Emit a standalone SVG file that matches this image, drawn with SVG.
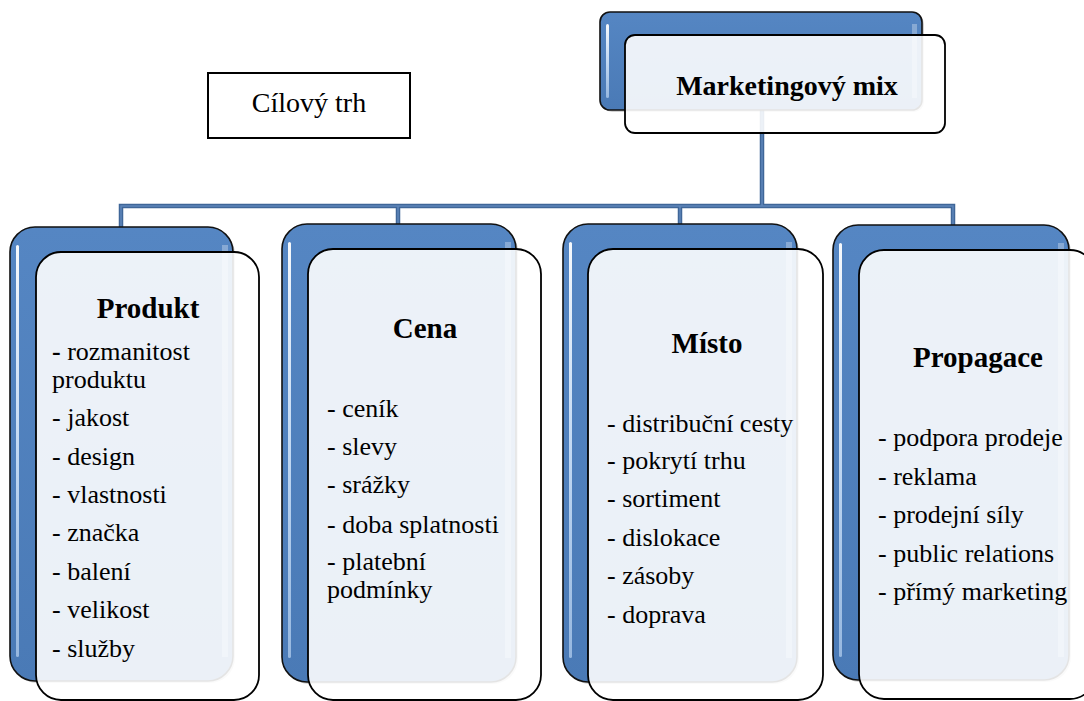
<svg xmlns="http://www.w3.org/2000/svg" width="1084" height="701" viewBox="0 0 1084 701">
<defs>
<linearGradient id="blueG" x1="0" y1="0" x2="0" y2="1">
<stop offset="0" stop-color="#5586C3"/>
<stop offset="1" stop-color="#4A7AB6"/>
</linearGradient>
<linearGradient id="hlG" x1="0" y1="0" x2="0" y2="1">
<stop offset="0" stop-color="#FFFFFF" stop-opacity="0.95"/>
<stop offset="0.5" stop-color="#D6E8FC" stop-opacity="0.85"/>
<stop offset="1" stop-color="#C9E0FA" stop-opacity="0.6"/>
</linearGradient>
</defs>
<style>
.back{fill:url(#blueG);stroke:#111;stroke-width:1.6}
.shadow{fill:#000;fill-opacity:0.18}
.front{fill:#FFFFFF;fill-opacity:0.89;stroke:#000;stroke-width:1.8}
.hl{fill:url(#hlG)}
.hlr{fill:#FFFFFF;fill-opacity:0.3}
.conn{fill:none;stroke:#3F6698;stroke-width:4.5}
.conni{fill:none;stroke:#5F86BA;stroke-width:1.5}
.title{font-family:"Liberation Serif","DejaVu Serif",serif;font-weight:bold;font-size:29px;text-anchor:middle;fill:#000}
.item{font-family:"Liberation Serif","DejaVu Serif",serif;font-weight:normal;font-size:26px;fill:#000}
</style>

<g id="connectors">
<path class="conn" d="M762,110 V206 M121,228 V206 H953 V226 M398,206 V225 M680,206 V225"/>
<path class="conni" d="M762,110 V206 M121,228 V206 H953 V226 M398,206 V225 M680,206 V225"/>
</g>

<g id="cilovy-trh">
<rect x="208" y="73" width="202" height="65" fill="#FFFFFF" stroke="#000" stroke-width="2"/>
<text x="309" y="112" class="item" style="font-size:28px" text-anchor="middle">Cílový trh</text>
</g>

<g id="marketingovy-mix">
<rect class="shadow" x="602" y="14" width="322" height="98" rx="10"/>
<rect class="back" x="600" y="12" width="322" height="98" rx="10"/>
<rect class="hl" x="606" y="24" width="3" height="74" rx="1.5"/>
<rect class="hlr" x="912" y="24" width="5" height="74"/>
<rect class="front" x="625" y="35" width="320" height="98" rx="10"/>
<text x="787" y="95" class="title" style="font-size:28px">Marketingový mix</text>
</g>

<g id="produkt">
<rect class="shadow" x="12" y="229" width="223" height="454" rx="25"/>
<rect class="back" x="10" y="227" width="223" height="454" rx="25"/>
<rect class="hl" x="16" y="245" width="3" height="412" rx="1.5"/>
<rect class="hlr" x="222" y="245" width="6" height="412"/>
<rect class="front" x="36" y="252" width="223" height="448" rx="25"/>
<text x="148" y="318" class="title">Produkt</text>
<text class="item" x="52" y="360"><tspan font-weight="bold">-</tspan> rozmanitost</text>
<text class="item" x="52" y="388">produktu</text>
<text class="item" x="52" y="426">- jakost</text>
<text class="item" x="52" y="465">- design</text>
<text class="item" x="52" y="503">- vlastnosti</text>
<text class="item" x="52" y="541">- značka</text>
<text class="item" x="52" y="580">- balení</text>
<text class="item" x="52" y="618">- velikost</text>
<text class="item" x="52" y="657">- služby</text>
</g>

<g id="cena">
<rect class="shadow" x="284" y="226" width="234" height="458" rx="25"/>
<rect class="back" x="282" y="224" width="234" height="458" rx="25"/>
<rect class="hl" x="288" y="242" width="3" height="416" rx="1.5"/>
<rect class="hlr" x="505" y="242" width="6" height="416"/>
<rect class="front" x="308" y="249" width="233" height="451" rx="25"/>
<text x="425" y="338" class="title">Cena</text>
<text class="item" x="327" y="417">- ceník</text>
<text class="item" x="327" y="455">- slevy</text>
<text class="item" x="327" y="493">- srážky</text>
<text class="item" x="327" y="533">- doba splatnosti</text>
<text class="item" x="327" y="570">- platební</text>
<text class="item" x="327" y="598">podmínky</text>
</g>

<g id="misto">
<rect class="shadow" x="565" y="226" width="234" height="458" rx="25"/>
<rect class="back" x="563" y="224" width="234" height="458" rx="25"/>
<rect class="hl" x="569" y="242" width="3" height="416" rx="1.5"/>
<rect class="hlr" x="786" y="242" width="6" height="416"/>
<rect class="front" x="588" y="249" width="235" height="451" rx="25"/>
<text x="707" y="353" class="title">Místo</text>
<text class="item" x="607" y="432">- distribuční cesty</text>
<text class="item" x="607" y="469">- pokrytí trhu</text>
<text class="item" x="607" y="507">- sortiment</text>
<text class="item" x="607" y="546">- dislokace</text>
<text class="item" x="607" y="584">- zásoby</text>
<text class="item" x="607" y="623">- doprava</text>
</g>

<g id="propagace">
<rect class="shadow" x="835" y="227" width="236" height="455" rx="25"/>
<rect class="back" x="833" y="225" width="236" height="455" rx="25"/>
<rect class="hl" x="839" y="243" width="3" height="414" rx="1.5"/>
<rect class="hlr" x="1058" y="243" width="6" height="414"/>
<rect class="front" x="859" y="250" width="236" height="449" rx="25"/>
<text x="978" y="367" class="title">Propagace</text>
<text class="item" x="878" y="446">- podpora prodeje</text>
<text class="item" x="878" y="485">- reklama</text>
<text class="item" x="878" y="523">- prodejní síly</text>
<text class="item" x="878" y="562">- public relations</text>
<text class="item" x="878" y="600">- přímý marketing</text>
</g>
</svg>
